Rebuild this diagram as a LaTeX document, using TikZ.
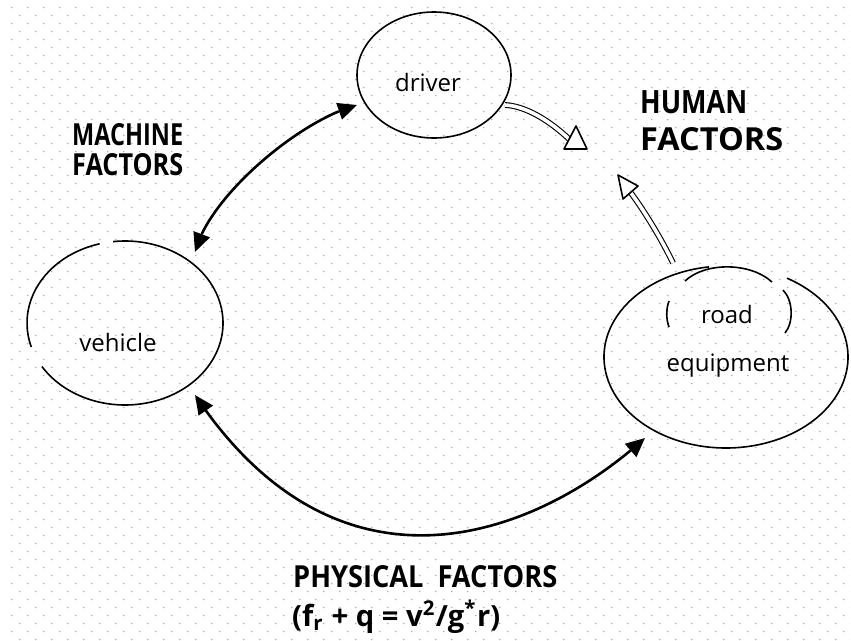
\documentclass[tikz,border=0pt]{standalone}
\usepackage{fontspec}
\setmainfont{Open Sans}
\usepackage{graphicx}
\usetikzlibrary{arrows.meta,bending}
\begin{document}
\begin{tikzpicture}[x=1pt,y=-1pt,
  bubble/.style={line width=1.6pt},
  fat/.style={line width=2.6pt,{Triangle[length=19pt,width=17pt]}-{Triangle[length=19pt,width=17pt]}},
  hollow/.style={line width=1.1pt,double=white,double distance=3.6pt},
  hollowtip/.style={line width=1.6pt,fill=white,line join=round},
  lbl/.style={inner sep=0pt,font=\fontsize{24}{28}\selectfont},
  caps/.style={inner sep=0pt,anchor=north west,font=\bfseries}]
\useasboundingbox (0,0) rectangle (851,640);
\fill[white] (0,0) rectangle (851,640);
% dotted paper
\foreach \r in {0,...,39} {
  \fill[black!30] \foreach \c in {0,...,53} {
      ({11.7+16*\c},{7.5+16*\r}) circle (0.9)
      ({19.7+16*\c},{15.5+16*\r}) circle (0.9) };
}

% driver
\draw[bubble] (434,75) ellipse [x radius=77, y radius=63];
\node[lbl] (driver) at (428,82) {driver};

% vehicle (hand-drawn with gaps)
\draw[bubble] (125,323) ++(263:98 and 82) arc [start angle=263, end angle=508, x radius=98, y radius=82];
\draw[bubble] (125,323) ++(163:98 and 82) arc [start angle=163, end angle=255, x radius=98, y radius=82];
\node[lbl] (vehicle) at (118,342) {vehicle};

% road / equipment
\draw[bubble] (726,357) ++(300:122 and 91) arc [start angle=300, end angle=622, x radius=122, y radius=91];
\draw[bubble] (685,281) .. controls (705,262) and (750,262) .. (772,282);
\draw[bubble] (669,301) .. controls (666,309) and (666,319) .. (669,327);
\draw[bubble] (783,290) .. controls (793,300) and (794,322) .. (785,333);
\node[lbl] (road) at (727,314) {road};
\node[lbl] (equip) at (728,366) {equipment};

% connector end points
\coordinate (m1) at (195,252);
\coordinate (m2) at (357,105);
\coordinate (p1) at (195,395);
\coordinate (p2) at (645,438);
\coordinate (h1s) at (505,105);
\coordinate (h1e) at (569,139);
\coordinate (h2s) at (673,263);
\coordinate (h2e) at (631,193);

% machine factors arrow
\draw[fat] (m1) .. controls (209,196) and (300,120) .. (m2);
% physical factors arrow
\draw[fat] (p1) .. controls (339.5,611.7) and (535,537.5) .. (p2);

% human factors hollow arrows
\draw[hollow] (h1s) .. controls (526,106) and (550,121) .. (h1e);
\draw[hollowtip] (576,126) -- (564,149) -- (587,149) -- cycle;
\draw[hollow] (h2s) .. controls (662,240) and (645,212) .. (h2e);
\draw[hollowtip] (618,175) -- (638,186) -- (623,199) -- cycle;

% labels
\node[caps] (mach1) at (72,123) {\resizebox{111pt}{22pt}{MACHINE}};
\node[caps] (mach2) at (72,153) {\resizebox{111pt}{22pt}{FACTORS}};
\node[caps] (hum1) at (640,90) {\resizebox{107pt}{23pt}{HUMAN}};
\node[caps] (hum2) at (640,127) {\resizebox{143pt}{23pt}{FACTORS}};
\node[caps] (phys) at (293,565) {\resizebox{264pt}{22pt}{PHYSICAL\ \ FACTORS}};
\node[caps] (form) at (292,600) {\resizebox{208pt}{!}{(f\textsubscript{r} + q = v\textsuperscript{2}/g\textsuperscript{*}r)}};
\end{tikzpicture}
\end{document}
